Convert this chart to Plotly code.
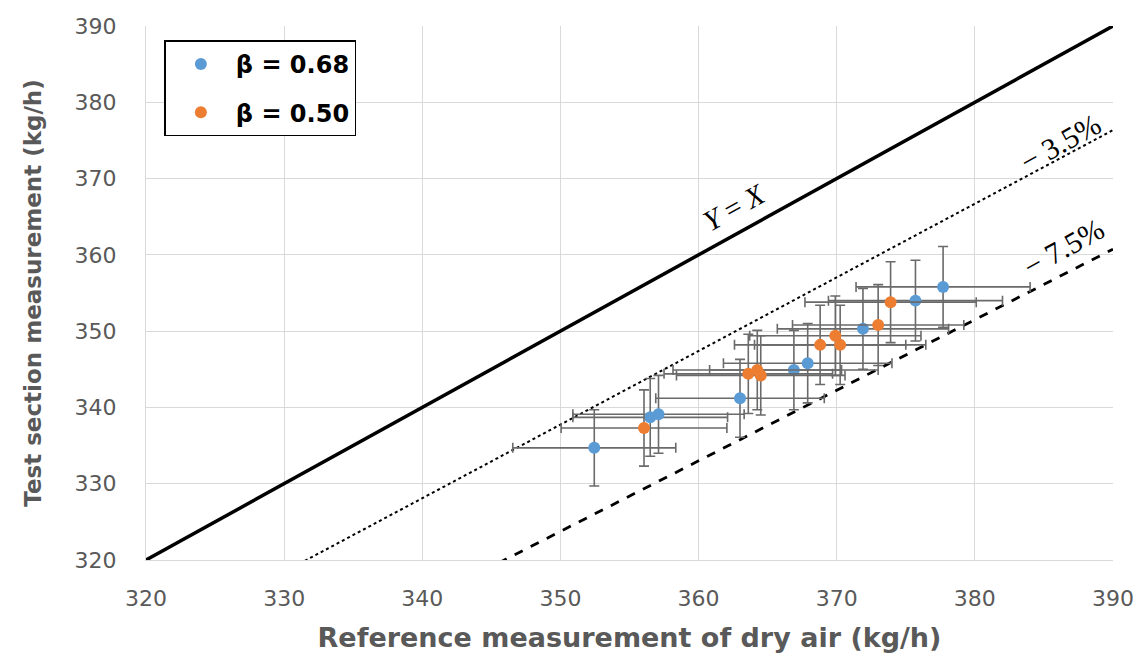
import plotly.graph_objects as go

# ---- data ----
beta068_x = [352.45, 356.5, 357.1, 363.0, 366.9, 367.9, 371.9, 375.7, 377.7]
beta068_y = [334.7, 338.7, 339.1, 341.2, 344.9, 345.8, 350.3, 354.0, 355.8]
beta068_xerr = [5.9, 5.6, 6.2, 6.1, 6.1, 6.1, 6.2, 6.3, 6.3]
beta068_yerr = [5.0, 5.1, 5.1, 5.1, 5.2, 5.2, 5.3, 5.3, 5.3]

beta050_x = [356.05, 363.6, 364.25, 364.5, 368.8, 369.9, 370.25, 373.0, 373.9]
beta050_y = [337.3, 344.4, 344.9, 344.2, 348.2, 349.4, 348.2, 350.8, 353.8]
beta050_xerr = [6.0, 6.1, 6.1, 6.1, 6.2, 6.2, 6.2, 6.2, 6.2]
beta050_yerr = [5.0, 5.2, 5.2, 5.2, 5.2, 5.2, 5.2, 5.3, 5.3]

line_x = [320, 390]
ratio_identity = 1.0
ratio_minus35 = 0.965
ratio_minus75 = 0.925

x_ticks = [320, 330, 340, 350, 360, 370, 380, 390]
y_ticks = [320, 330, 340, 350, 360, 370, 380, 390]

BLUE = "#5B9BD5"
ORANGE = "#ED7D31"
ERR = "#6a6a6a"
GRID = "#d9d9d9"
TXT = "#595959"

fig = go.Figure()

fig.add_trace(go.Scatter(x=line_x, y=[v * ratio_identity for v in line_x], mode="lines",
                         line=dict(color="black", width=3.5), showlegend=False, hoverinfo="skip"))
fig.add_trace(go.Scatter(x=line_x, y=[v * ratio_minus35 for v in line_x], mode="lines",
                         line=dict(color="black", width=2, dash="dot"), showlegend=False, hoverinfo="skip"))
fig.add_trace(go.Scatter(x=line_x, y=[v * ratio_minus75 for v in line_x], mode="lines",
                         line=dict(color="black", width=2.8, dash="dash"), showlegend=False, hoverinfo="skip"))

def add_series(xs, ys, xe, ye, color, name, group):
    fig.add_trace(go.Scatter(
        x=xs, y=ys, mode="markers", name=name, legendgroup=group,
        marker=dict(color=color, size=12),
        error_x=dict(type="data", array=xe, color=ERR, thickness=1.6, width=5),
        error_y=dict(type="data", array=ye, color=ERR, thickness=1.6, width=5),
    ))

add_series(beta068_x, beta068_y, beta068_xerr, beta068_yerr, BLUE, "<b>β = 0.68</b>", "a")
add_series(beta050_x, beta050_y, beta050_xerr, beta050_yerr, ORANGE, "<b>β = 0.50</b>", "b")

serif = "Liberation Serif"
fig.add_annotation(x=362.6, y=366.3, text="<i>Y</i> = <i>X</i>", showarrow=False, textangle=-29,
                   font=dict(family=serif, size=29, color="black"), xref="x", yref="y")
fig.add_annotation(x=386.2, y=374.7, text="− 3.5%", showarrow=False, textangle=-29,
                   font=dict(family=serif, size=30, color="black"), xref="x", yref="y")
fig.add_annotation(x=386.4, y=361.0, text="− 7.5%", showarrow=False, textangle=-29,
                   font=dict(family=serif, size=30, color="black"), xref="x", yref="y")

fig.update_layout(
    width=1146, height=660,
    margin=dict(l=146, r=33, t=26, b=100),
    paper_bgcolor="white", plot_bgcolor="white",
    font=dict(family="DejaVu Sans", color=TXT),
    legend=dict(x=0.019, y=0.973, xanchor="left", yanchor="top",
                bordercolor="black", borderwidth=1.5, bgcolor="white",
                font=dict(family="DejaVu Sans", size=24, color="black"),
                tracegroupgap=14, itemsizing="constant", itemwidth=60),
    showlegend=True,
)
fig.update_xaxes(range=[320, 390], tickvals=x_ticks, showgrid=True, gridcolor=GRID, gridwidth=1.3,
                 zeroline=False, showline=True, linecolor=GRID, linewidth=1.3,
                 tickfont=dict(size=22, color=TXT), ticks="", ticklabelstandoff=18,
                 title=dict(text="<b>Reference measurement of dry air (kg/h)</b>",
                            font=dict(size=27, color=TXT), standoff=18))
fig.update_yaxes(range=[320, 390], tickvals=y_ticks, showgrid=True, gridcolor=GRID, gridwidth=1.3,
                 zeroline=False, showline=True, linecolor=GRID, linewidth=1.3,
                 tickfont=dict(size=22, color=TXT), ticks="", ticklabelstandoff=24,
                 title=dict(text="<b>Test section measurement (kg/h)</b>",
                            font=dict(size=23, color=TXT), standoff=26))

fig.write_html("out.html")
